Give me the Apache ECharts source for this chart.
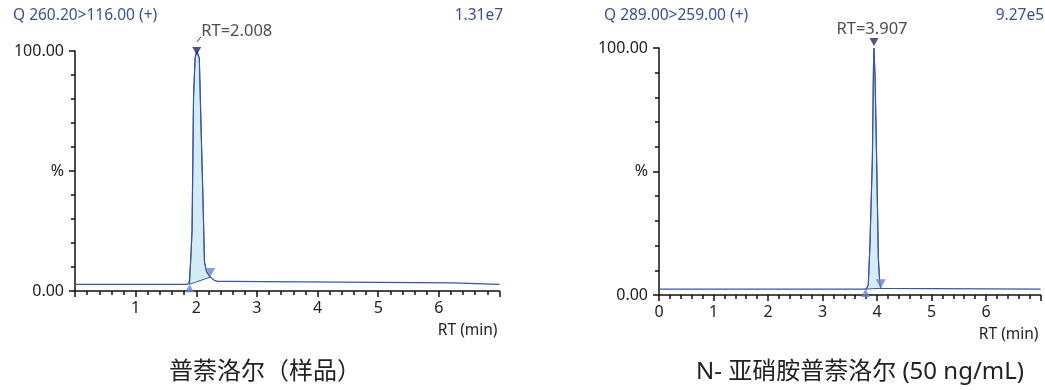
<!DOCTYPE html>
<html>
<head>
<meta charset="utf-8">
<script src="https://cdn.jsdelivr.net/npm/echarts@6/dist/echarts.min.js"></script>
<style>
html, body { margin: 0; padding: 0; background: #fff; }
#chart { width: 1045px; height: 390px; }
</style>
</head>
<body>
<div id="chart"></div>
<script>
// left trace: 普萘洛尔（样品）
var leftTime  = [0, 1.86, 1.885, 1.91, 1.93, 1.955, 1.98, 2.008, 2.05, 2.08, 2.11, 2.135, 2.17, 2.23, 2.30, 2.35, 2.52, 2.53, 6.22, 6.24, 7];
var leftValue = [2.8, 2.8, 4, 14, 25, 81, 97, 100, 97, 67, 39, 12, 8, 5.8, 4.4, 4.0, 4.0, 3.4, 3.4, 2.8, 2.8];
var leftStart = [1.89, 2.8];
var leftEnd   = [2.23, 5.8];
var leftApex  = [2.008, 100];
var leftLeader = [[2.012, 103.8], [2.077, 105.9]];

// right trace: N- 亚硝胺普萘洛尔
var rightTime  = [0, 3.80, 3.84, 3.87, 3.915, 3.935, 3.945, 3.965, 3.995, 4.025, 4.05, 4.07, 4.09, 7];
var rightValue = [2.4, 2.4, 4, 20, 55, 92, 100, 88, 53, 15, 5, 2.7, 2.4, 2.4];
var rightStart = [3.79, 2.4];
var rightEnd   = [4.07, 2.7];
var rightApex  = [3.945, 100];

var xTicks = [0, 1, 2, 3, 4, 5, 6, 7];
var headers = ['Q 260.20>116.00 (+)', '1.31e7', 'Q 289.00>259.00 (+)', '9.27e5'];
var captions = ['普萘洛尔（样品）', 'N- 亚硝胺普萘洛尔 (50 ng/mL)'];
var rtLabels = ['RT=2.008', 'RT=3.907'];

var FONT = "'Noto Sans', 'Noto Sans CJK SC', sans-serif";
var traceColor = '#3a55a6';
var fillColor = '#d4ecf3';
var markColor = '#6a84c6';
var apexColor = '#262a5e';

function pairs(t, v) {
	var out = [];
	for (var i = 0; i < t.length; i++) out.push([t[i], v[i]]);
	return out;
}

function fillPoints(t, v, s, e) {
	var pts = [s];
	for (var i = 0; i < t.length; i++) {
		if (t[i] > s[0] && t[i] < e[0]) pts.push([t[i], v[i]]);
	}
	pts.push(e);
	return pts;
}

var leftFill = fillPoints(leftTime, leftValue, leftStart, leftEnd);
var rightFill = fillPoints(rightTime, rightValue, rightStart, rightEnd);

function fillSeries(idx, pts) {
	return {
		type: 'custom',
		xAxisIndex: idx, yAxisIndex: idx,
		data: [pts[0]],
		z: 1,
		renderItem: function (params, api) {
			var p = [];
			for (var i = 0; i < pts.length; i++) p.push(api.coord(pts[i]));
			return {
				type: 'polygon',
				shape: { points: p },
				style: { fill: fillColor, stroke: traceColor, lineWidth: 1 }
			};
		}
	};
}

function xAxis(idx, hideZero) {
	return {
		type: 'value', gridIndex: idx, min: 0, max: 7, interval: 1,
		name: 'RT (min)', nameLocation: 'end', nameGap: -2,
		nameTextStyle: { fontFamily: FONT, fontSize: 15.5, color: '#222', align: 'right', verticalAlign: 'top', padding: [32, 0, 0, 0] },
		axisLine: { lineStyle: { color: '#111', width: 1.5 } },
		axisTick: { length: 6, lineStyle: { color: '#111', width: 1.5 } },
		minorTick: { show: true, splitNumber: 5, length: 4, lineStyle: { color: '#111', width: 1.5 } },
		splitLine: { show: false },
		axisLabel: {
			margin: 9, fontFamily: FONT, fontSize: 16, color: '#222',
			formatter: function (v) {
				if (v === 7) return '';
				if (v === 0 && hideZero) return '';
				return xTicks[v] + '';
			}
		}
	};
}

function yAxis(idx) {
	return {
		type: 'value', gridIndex: idx, min: 0, max: 100, interval: 50,
		axisLine: { show: true, lineStyle: { color: '#111', width: 1.5 } },
		axisTick: { show: true, length: 6, lineStyle: { color: '#111', width: 1.5 } },
		minorTick: { show: true, splitNumber: 5, length: 4, lineStyle: { color: '#111', width: 1.5 } },
		splitLine: { show: false },
		axisLabel: {
			margin: 11, fontFamily: FONT, fontSize: 16, color: '#222',
			formatter: function (v) {
				if (v === 100) return '100.00';
				if (v === 50) return '%';
				return '0.00';
			}
		}
	};
}

function traceSeries(idx, t, v) {
	return {
		type: 'line', xAxisIndex: idx, yAxisIndex: idx,
		data: pairs(t, v), showSymbol: false, z: 3,
		lineStyle: { color: traceColor, width: 1.2 }
	};
}

function markSeries(idx, s, e) {
	return [{
		type: 'scatter', xAxisIndex: idx, yAxisIndex: idx, z: 4,
		data: [s], symbol: 'triangle', symbolSize: [9, 8], symbolOffset: [0, 4],
		itemStyle: { color: markColor }, silent: true
	}, {
		type: 'scatter', xAxisIndex: idx, yAxisIndex: idx, z: 4,
		data: [e], symbol: 'triangle', symbolRotate: 180, symbolSize: [10, 9], symbolOffset: [0, -4.5],
		itemStyle: { color: markColor }, silent: true
	}];
}

function apexSeries(idx, apex, label, offY, labelOffset) {
	return {
		type: 'scatter', xAxisIndex: idx, yAxisIndex: idx, z: 5,
		data: [apex], symbol: 'triangle', symbolRotate: 180, symbolSize: [9, 8], symbolOffset: [0, offY],
		itemStyle: { color: apexColor }, silent: true,
		label: {
			show: true, position: 'top', distance: 3, offset: labelOffset,
			formatter: label, fontFamily: FONT, fontSize: 16.5, color: '#222'
		}
	};
}

var chart = echarts.init(document.getElementById('chart'));

var headStyle = { fontFamily: FONT, fontSize: 15.5, fontWeight: 'normal', color: '#3c4f95' };
var capStyle = { fontFamily: FONT, fontSize: 24, fontWeight: 'normal', color: '#222' };

var option = {
	backgroundColor: '#fff',
	animation: false,
	title: [
		{ text: headers[0], left: 8, top: 3, textStyle: headStyle },
		{ text: headers[1], left: 498, top: 3, textAlign: 'right', textStyle: headStyle },
		{ text: headers[2], left: 599, top: 3, textStyle: headStyle },
		{ text: headers[3], left: 1039, top: 3, textAlign: 'right', textStyle: headStyle },
		{ text: captions[0], left: 260, top: 355, textAlign: 'center', textStyle: capStyle },
		{ text: captions[1], left: 855, top: 355, textAlign: 'center', textStyle: capStyle }
	],
	grid: [
		{ left: 75, top: 51, width: 424.5, height: 240 },
		{ left: 659, top: 48, width: 381.5, height: 247 }
	],
	xAxis: [xAxis(0, true), xAxis(1, false)],
	yAxis: [yAxis(0), yAxis(1)],
	series: [
		fillSeries(0, leftFill),
		fillSeries(1, rightFill),
		traceSeries(0, leftTime, leftValue),
		traceSeries(1, rightTime, rightValue)
	].concat(markSeries(0, leftStart, leftEnd))
	 .concat(markSeries(1, rightStart, rightEnd))
	 .concat([
		apexSeries(0, leftApex, rtLabels[0], 0, [40, -4]),
		apexSeries(1, rightApex, rtLabels[1], -6, [-2, 3]),
		{
			type: 'line', xAxisIndex: 0, yAxisIndex: 0, clip: false, z: 5,
			data: leftLeader, showSymbol: false,
			lineStyle: { color: '#333', width: 1 }
		}
	 ])
};

chart.setOption(option);
</script>
</body>
</html>
